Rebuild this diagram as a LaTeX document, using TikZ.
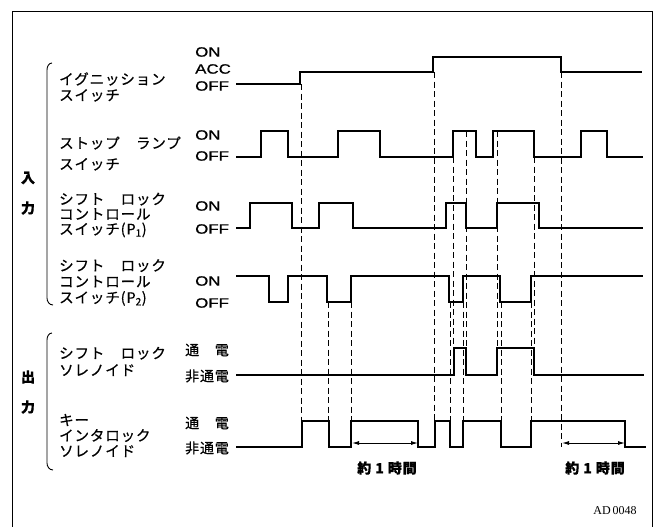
\documentclass[tikz,border=0pt]{standalone}
\usepackage{fontspec}
\setmainfont{Liberation Sans}
\newfontfamily\jpfont{Noto Sans CJK JP}[LetterSpace=6, FakeBold=0.6]
\newfontfamily\lvlfont{Liberation Sans}[FakeStretch=1.25, FakeBold=0.8]
\newfontfamily\codefont{Liberation Serif}
\usetikzlibrary{arrows.meta, positioning}

\begin{document}
\begin{tikzpicture}[
    x=1pt, y=-1pt,
    sig/.style={line width=1.7pt, line join=miter},
    guide/.style={line width=1pt, dash pattern=on 6pt off 3.5pt},
    brk/.style={line width=0.9pt},
    sigtext/.style={anchor=west, inner sep=0pt, align=left, font=\jpfont\fontsize{14.5}{#1}\selectfont},
    level/.style={anchor=west, inner sep=0pt, font=\lvlfont\fontsize{13.5}{14}\selectfont},
    jlevel/.style={anchor=west, inner sep=0pt, font=\jpfont\fontsize{14}{14}\selectfont},
    group/.style={inner sep=0pt, font=\jpfont\bfseries\fontsize{14}{14}\selectfont},
    note/.style={inner sep=0pt, font=\jpfont\bfseries\fontsize{14}{14}\selectfont},
    span/.style={{Latex[length=7pt,width=4pt]}-{Latex[length=7pt,width=4pt]}, line width=0.9pt}
]
\useasboundingbox (0,0) rectangle (661,527);

% frame (open at the bottom edge)
\draw[line width=1pt] (12,527) |- (652,12) -- (652,527);

% input / output groups
\node[group] (in1) at (28,178) {入};
\node[group] (in2) at (28,208) {力};
\node[group] (out1) at (28,377) {出};
\node[group] (out2) at (28,407) {力};
\draw[brk] (52,63) to[out=180,in=90] (47,70) -- (47,298) to[out=-90,in=180] (53,305);
\draw[brk] (52,333) to[out=180,in=90] (47,340) -- (47,463) to[out=-90,in=180] (53,470);

% signal names
\node[sigtext=16] (ig) at (59,87) {イグニッション\\スイッチ};
\node[sigtext=21] (stop) at (59,153.5) {ストップ　ランプ\\スイッチ};
\node[sigtext=15] (p1) at (59,215) {シフト　ロック\\コントロール\\スイッチ(P\textsubscript{1})};
\node[sigtext=16] (p2) at (59,282.5) {シフト　ロック\\コントロール\\スイッチ(P\textsubscript{2})};
\node[sigtext=17] (sol) at (59,361.5) {シフト　ロック\\ソレノイド};
\node[sigtext=15.5] (key) at (59,435.5) {キー\\インタロック\\ソレノイド};

% levels
\node[level] (ig-on) at (195,52) {ON};
\node[level] (ig-acc) at (195,69) {ACC};
\node[level] (ig-off) at (195,86) {OFF};
\node[level] (stop-on) at (195,135) {ON};
\node[level] (stop-off) at (195,156) {OFF};
\node[level] (p1-on) at (195,206) {ON};
\node[level] (p1-off) at (195,229) {OFF};
\node[level] (p2-on) at (195,281) {ON};
\node[level] (p2-off) at (195,303) {OFF};
\node[jlevel] (sol-on) at (185,350) {通　電};
\node[jlevel] (sol-off) at (185,376) {非通電};
\node[jlevel] (key-on) at (185,423) {通　電};
\node[jlevel] (key-off) at (185,448) {非通電};

% waveforms
\draw[sig] (236,84) -| (300,72) -| (433,57) -| (561,72) -- (642,72);
\draw[sig] (236,157) -| (261,131) -| (288,157) -| (338,131) -| (380,157) -| (453,131) -| (476,157) -| (493,131) -| (534,157) -| (581,131) -| (607,157) -- (643,157);
\draw[sig] (236,228) -| (250,203) -| (292,228) -| (319,203) -| (353,228) -| (446,203) -| (466,228) -| (497,203) -| (539,228) -- (643,228);
\draw[sig] (236,276) -| (269,302) -| (288,276) -| (327,302) -| (351,276) -| (449,302) -| (463,276) -| (500,302) -| (531,276) -- (643,276);
\draw[sig] (236,375) -| (454,348) -| (466,375) -| (497,348) -| (534,375) -- (644,375);
\draw[sig] (236,447) -| (302,421) -| (329,447) -| (351,421) -| (418,447) -| (435,421) -| (450,447) -| (463,421) -| (501,447) -| (531,421) -| (625,447) -- (646,447);

% timing guides
\draw[guide] (301,84) -- (301,447);
\draw[guide] (328,302) -- (328,447);
\draw[guide] (351,302) -- (351,447);
\draw[guide] (434,72) -- (434,447);
\draw[guide] (450,302) -- (450,447);
\draw[guide] (453,157) -- (453,375);
\draw[guide] (463,302) -- (463,447);
\draw[guide] (466,131) -- (466,375);
\draw[guide] (497,131) -- (497,375);
\draw[guide] (501,302) -- (501,447);
\draw[guide] (531,302) -- (531,447);
\draw[guide] (534,157) -- (534,375);
\draw[guide] (561,72) -- (561,447);

% one-hour spans
\coordinate (hr1a) at (352,443);
\coordinate (hr1b) at (418,443);
\coordinate (hr2a) at (562,443);
\coordinate (hr2b) at (625,443);
\draw[span] (hr1a) -- (hr1b);
\draw[span] (hr2a) -- (hr2b);
\node[note] (hr1) at (387,468) {約 1 時間};
\node[note] (hr2) at (595,468) {約 1 時間};

\node[inner sep=0pt, font=\codefont\fontsize{12}{12}\selectfont] (code) at (615,511) {AD\,0048};

\end{tikzpicture}
\end{document}
